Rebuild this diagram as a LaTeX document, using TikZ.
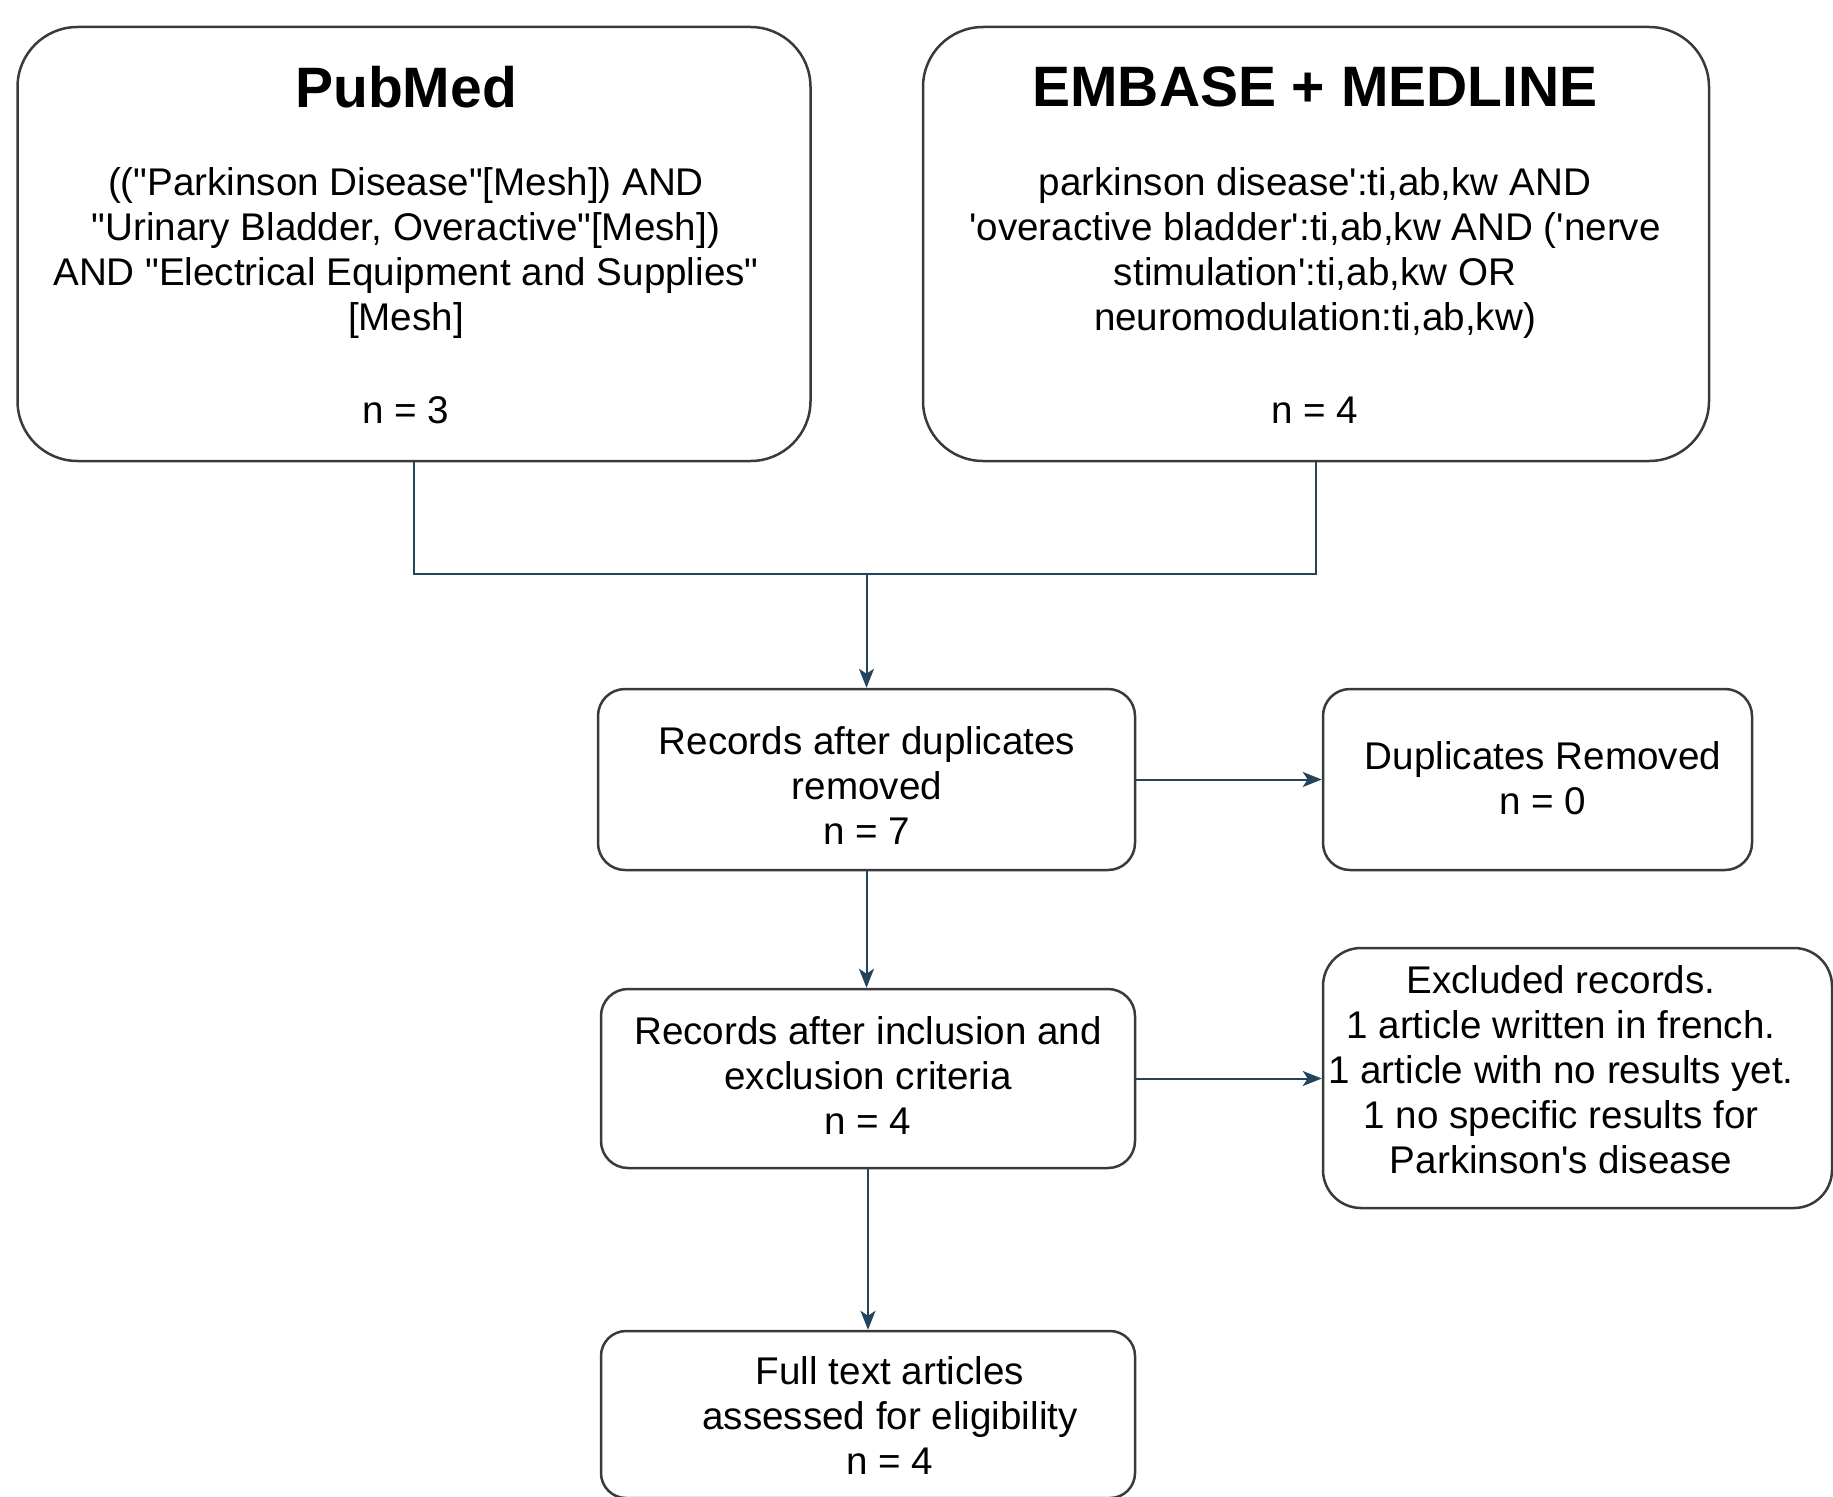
\documentclass[tikz,border=0pt]{standalone}
\usepackage{fontspec}
\newfontfamily\lsans{Liberation Sans}
\usetikzlibrary{arrows.meta}
\definecolor{conncol}{HTML}{23445D}
\definecolor{boxcol}{HTML}{3A3A3A}
\tikzset{
  box/.style={draw=boxcol, line width=2.5pt, rounded corners=#1, inner sep=0pt, fill=white},
  body/.style={font=\lsans\fontsize{38.6}{45}\selectfont, align=center, inner sep=0pt, text=black},
  ttl/.style={font=\lsans\bfseries\fontsize{57}{68}\selectfont, inner sep=0pt, text=black},
  conn/.style={draw=conncol, line width=2pt},
  arr/.style={conn, -{Stealth[length=19pt,width=15pt,inset=5pt]}}
}
\begin{document}
\begin{tikzpicture}[x=1pt,y=-1pt]
\useasboundingbox (0,0) rectangle (1833,1496);
% big boxes
\node[box=60pt, minimum width=793pt, minimum height=434pt] (pub) at (414,244) {};
\node[box=60pt, minimum width=786pt, minimum height=434pt] (emb) at (1316,244) {};
\node[ttl] (pubt) at (406,87) {PubMed};
\node[body] (pubb) at (406,253) {(("Parkinson Disease"[Mesh]) AND\\
"Urinary Bladder, Overactive"[Mesh])\\
AND "Electrical Equipment and Supplies"\\ {[Mesh]}};
\node[body] (pubn) at (406,410) {n = 3};
\node[ttl] (embt) at (1315,87) {EMBASE + MEDLINE};
\node[body] (embb) at (1315,253) {parkinson disease':ti,ab,kw AND\\
'overactive bladder':ti,ab,kw AND ('nerve\\
stimulation':ti,ab,kw OR\\
neuromodulation:ti,ab,kw)};
\node[body] (embn) at (1315,410) {n = 4};
% small boxes
\node[box=27pt, minimum width=537pt, minimum height=181pt] (rec) at (866.5,779.5) {};
\node[body] (rect) at (867,786) {Records after duplicates\\removed\\n = 7};
\node[box=27pt, minimum width=429pt, minimum height=181pt] (dup) at (1537.5,779.5) {};
\node[body] (dupt) at (1543,778) {Duplicates Removed\\n = 0};
\node[box=27pt, minimum width=534pt, minimum height=179pt] (inc) at (868,1078.5) {};
\node[body] (inct) at (868,1076) {Records after inclusion and\\exclusion criteria\\n = 4};
\node[box=38pt, minimum width=509pt, minimum height=260pt] (exc) at (1577.5,1078) {};
\node[body] (exct) at (1561,1070) {Excluded records.\\1 article written in french.\\1 article with no results yet.\\1 no specific results for\\Parkinson's disease};
\node[box=25pt, minimum width=534pt, minimum height=167pt] (full) at (868,1414.5) {};
\node[body] (fullt) at (890,1415) {Full text articles\\assessed for eligibility\\n = 4};
% connectors
\coordinate (m) at (866.5,574);
\draw[conn] (pub.south) |- (m);
\draw[conn] (emb.south) |- (m);
\draw[arr] (m) -- (rec.north);
\draw[arr] (rec.east) -- (dup.west);
\draw[arr] (rec.south) -- (rec.south |- inc.north);
\draw[arr] (inc.east) -- (inc.east -| exc.west);
\draw[arr] (inc.south) -- (inc.south |- full.north);
\end{tikzpicture}
\end{document}
